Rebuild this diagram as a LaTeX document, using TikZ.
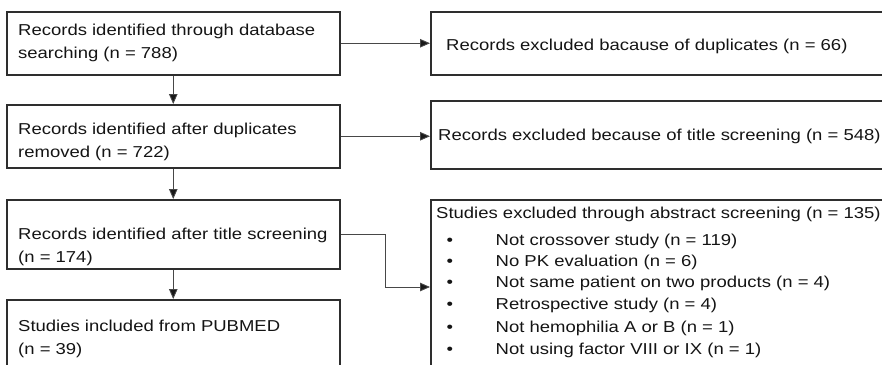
\documentclass[tikz,border=0pt]{standalone}
\usepackage{fontspec}
\setmainfont{Liberation Sans}[FakeStretch=1.17]
\usetikzlibrary{arrows.meta}

\tikzset{
  box/.style={draw=black!82, line width=1.5pt, anchor=north west, inner sep=0pt},
  txt/.style={anchor=base west, inner sep=0pt, text=black!92, align=left,
    font=\fontsize{15.8}{23}\selectfont},
  conn/.style={draw=black!72, line width=0.9pt,
    -{Triangle[length=10pt,width=8.5pt,fill=black!90]}},
}
\newcommand{\bulletitem}[1]{\makebox[49pt][l]{\textbullet}#1}

\begin{document}
\begin{tikzpicture}[x=1pt, y=-1pt]
  \useasboundingbox (0,0) rectangle (882,364);
  \clip (0,0) rectangle (882,364);

  % Left column: records kept
  \node[box, minimum width=333pt, minimum height=63pt] (b1) at (6,11) {};
  \node[box, minimum width=333pt, minimum height=63pt] (b2) at (6,104) {};
  \node[box, minimum width=333pt, minimum height=69pt] (b3) at (6,199) {};
  \node[box, minimum width=333pt, minimum height=90pt] (b4) at (6,299) {};

  % base of a two-line node is its last line
  \node[txt] (t1) at (18,58.5) {Records identified through database\\searching (n = 788)};
  \node[txt] (t2) at (18,157) {Records identified after duplicates\\removed (n = 722)};
  \node[txt] (t3) at (18,262) {Records identified after title screening\\(n = 174)};
  \node[txt] (t4) at (18,354) {Studies included from PUBMED\\(n = 39)};

  % Right column: records excluded (cut off by the page edge)
  \node[box, minimum width=470pt, minimum height=63pt] (x1) at (430,11) {};
  \node[box, minimum width=470pt, minimum height=68pt] (x2) at (430,100) {};
  \node[box, minimum width=470pt, minimum height=200pt] (x3) at (430,199) {};

  \node[txt] (u1) at (446,50.5) {Records excluded bacause of duplicates (n = 66)};
  \node[txt] (u2) at (438,140.5) {Records excluded because of title screening (n = 548)};
  \node[txt] (u3) at (436,218.5) {Studies excluded through abstract screening (n = 135)};

  \node[txt] (i1) at (446.5,245.5) {\bulletitem{Not crossover study (n = 119)}};
  \node[txt] (i2) at (446.5,266.5) {\bulletitem{No PK evaluation (n = 6)}};
  \node[txt] (i3) at (446.5,287.5) {\bulletitem{Not same patient on two products (n = 4)}};
  \node[txt] (i4) at (446.5,309) {\bulletitem{Retrospective study (n = 4)}};
  \node[txt] (i5) at (446.5,332) {\bulletitem{Not hemophilia A or B (n = 1)}};
  \node[txt] (i6) at (446.5,354.5) {\bulletitem{Not using factor VIII or IX (n = 1)}};

  % Connectors
  \draw[conn] (b1.south) -- (b2.north);
  \draw[conn] (b2.south) -- (b3.north);
  \draw[conn] (b3.south) -- (b4.north);
  \draw[conn] (b1.east) -- (b1.east -| x1.west);
  \draw[conn] (b2.east) -- (b2.east -| x2.west);
  \coordinate (k3) at (x3.west |- 0,287);
  \draw[conn] (b3.east) -- ++(45,0) |- (k3);
\end{tikzpicture}
\end{document}
